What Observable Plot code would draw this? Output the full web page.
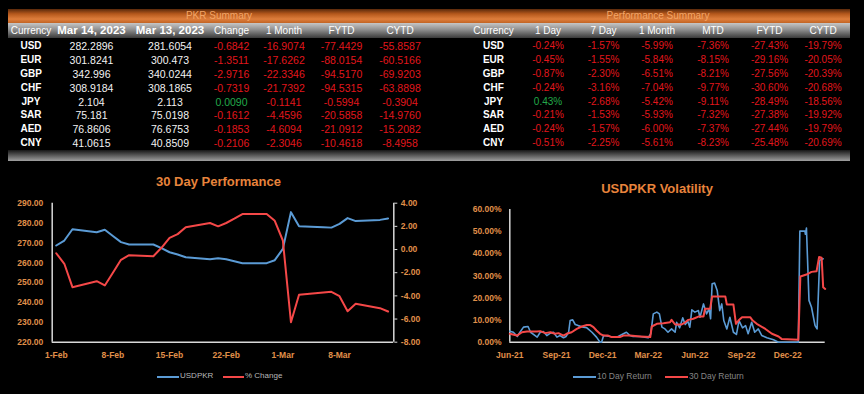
<!DOCTYPE html>
<html><head><meta charset="utf-8">
<script src="https://cdn.jsdelivr.net/npm/d3@7"></script>
<script src="https://cdn.jsdelivr.net/npm/@observablehq/plot@0.6"></script>
<style>
html,body{margin:0;padding:0;background:#000;width:864px;height:394px;overflow:hidden;font-family:"Liberation Sans",Arial,sans-serif;}
#root{position:relative;width:864px;height:394px;}
.blk{position:absolute;}
.cell{position:absolute;transform:translate(-50%,-50%);white-space:nowrap;line-height:1;}
.chart{position:absolute;}
.chart svg{overflow:visible;}
</style></head>
<body><div id="root"></div>
<script>
// ---------- table data ----------
const currencies = ["USD","EUR","GBP","CHF","JPY","SAR","AED","CNY"];
const pkrHeaders = ["Currency","Mar 14, 2023","Mar 13, 2023","Change","1 Month","FYTD","CYTD"];
const rateMar14 = [282.2896,301.8241,342.996,308.9184,2.104,75.181,76.8606,41.0615];
const rateMar13 = [281.6054,300.473,340.0244,308.1865,2.113,75.0198,76.6753,40.8509];
const pkrChange = [-0.6842,-1.3511,-2.9716,-0.7319,0.0090,-0.1612,-0.1853,-0.2106];
const pkr1Month = [-16.9074,-17.6262,-22.3346,-21.7392,-0.1141,-4.4596,-4.6094,-2.3046];
const pkrFYTD = [-77.4429,-88.0154,-94.5170,-94.5315,-0.5994,-20.5858,-21.0912,-10.4618];
const pkrCYTD = [-55.8587,-60.5166,-69.9203,-63.8898,-0.3904,-14.9760,-15.2082,-8.4958];

const perfHeaders = ["Currency","1 Day","7 Day","1 Month","MTD","FYTD","CYTD"];
const perf1Day = [-0.24,-0.45,-0.87,-0.24,0.43,-0.21,-0.24,-0.51];
const perf7Day = [-1.57,-1.55,-2.30,-3.16,-2.68,-1.53,-1.57,-2.25];
const perf1Month = [-5.99,-5.84,-6.51,-7.04,-5.42,-5.93,-6.00,-5.61];
const perfMTD = [-7.36,-8.15,-8.21,-9.77,-9.11,-7.32,-7.37,-8.23];
const perfFYTD = [-27.43,-29.16,-27.56,-30.60,-28.49,-27.38,-27.44,-25.48];
const perfCYTD = [-19.79,-20.05,-20.39,-20.68,-18.56,-19.92,-19.79,-20.69];

// ---------- 30 day performance ----------
const perfDates = ["2023-02-01","2023-02-02","2023-02-03","2023-02-06","2023-02-07","2023-02-08","2023-02-09","2023-02-10","2023-02-13","2023-02-14","2023-02-15","2023-02-16","2023-02-17","2023-02-20","2023-02-21","2023-02-22","2023-02-23","2023-02-24","2023-02-27","2023-02-28","2023-03-01","2023-03-02","2023-03-03","2023-03-06","2023-03-07","2023-03-08","2023-03-09","2023-03-10","2023-03-13","2023-03-14"];
const usdpkr = [268.7,271.2,276.9,275.4,276.6,273.5,270.4,269.2,269.2,267.4,265.3,264.2,262.8,261.8,262.3,261.8,260.8,259.8,259.8,261.3,267.0,285.5,278.4,277.9,277.7,279.6,282.5,281.0,281.6,282.3];
const pctChange = [-0.32,-1.23,-3.25,-2.73,-3.10,-2.01,-0.89,-0.49,-0.58,0.15,1.01,1.33,1.92,2.29,2.00,2.29,2.66,3.06,3.06,2.48,0.78,-6.27,-3.91,-3.71,-3.65,-4.03,-5.32,-4.69,-5.06,-5.35];
const perfTickDates = ["2023-02-01","2023-02-08","2023-02-15","2023-02-22","2023-03-01","2023-03-08"];

// ---------- volatility ----------
const vol10Dates = ["2021-06-01","2021-06-08","2021-06-16","2021-06-21","2021-06-28","2021-07-07","2021-07-12","2021-07-21","2021-07-25","2021-07-31","2021-08-06","2021-08-13","2021-08-20","2021-08-26","2021-09-02","2021-09-08","2021-09-15","2021-09-20","2021-09-25","2021-09-28","2021-10-03","2021-10-08","2021-10-14","2021-10-24","2021-10-31","2021-11-10","2021-11-19","2021-11-26","2021-11-29","2021-12-03","2021-12-16","2021-12-29","2022-01-11","2022-01-17","2022-01-24","2022-01-30","2022-02-13","2022-03-01","2022-03-06","2022-03-11","2022-03-18","2022-03-23","2022-03-28","2022-04-03","2022-04-09","2022-04-16","2022-04-23","2022-04-26","2022-05-02","2022-05-08","2022-05-13","2022-05-18","2022-05-22","2022-05-26","2022-06-01","2022-06-08","2022-06-11","2022-06-18","2022-06-24","2022-06-29","2022-07-02","2022-07-05","2022-07-10","2022-07-15","2022-07-20","2022-07-24","2022-07-28","2022-08-03","2022-08-09","2022-08-16","2022-08-22","2022-08-27","2022-09-03","2022-09-09","2022-09-14","2022-09-21","2022-09-27","2022-10-04","2022-10-11","2022-10-21","2022-11-03","2022-11-13","2022-12-22","2022-12-25","2023-01-04","2023-01-05","2023-01-07","2023-01-12","2023-01-17","2023-01-24","2023-01-28","2023-02-02","2023-02-09"];
const ret10 = [5.0,4.5,2.6,4.5,6.8,7.1,4.5,3.0,2.3,4.5,4.8,3.0,4.1,4.5,2.3,3.0,2.0,2.6,4.5,9.8,10.1,8.0,7.5,6.8,6.5,4.5,2.3,0.0,0.0,3.0,2.6,2.3,3.8,4.5,3.0,2.6,2.6,2.0,3.8,12.8,13.6,12.8,6.8,6.0,4.5,6.0,4.5,9.0,6.5,11.0,8.0,9.5,6.8,14.6,13.6,14.3,11.3,17.3,12.8,15.1,10.6,26.4,26.7,23.4,14.3,17.3,9.8,6.0,11.3,4.5,3.5,9.8,6.5,7.5,3.8,9.0,4.5,6.0,3.0,2.0,1.1,0.0,0.0,50.2,50.2,48.8,51.6,18.9,15.8,7.5,6.0,37.0,37.7];
const vol30Dates = ["2021-06-01","2021-06-15","2021-06-25","2021-07-05","2021-07-24","2021-07-31","2021-08-10","2021-08-20","2021-08-29","2021-09-05","2021-09-15","2021-09-21","2021-10-01","2021-10-11","2021-10-21","2021-10-31","2021-11-06","2021-11-13","2021-11-19","2021-11-26","2021-12-03","2021-12-12","2021-12-19","2022-01-04","2022-01-11","2022-01-24","2022-02-13","2022-03-05","2022-03-08","2022-03-18","2022-03-31","2022-04-13","2022-04-16","2022-04-23","2022-05-06","2022-05-13","2022-05-19","2022-05-29","2022-06-08","2022-06-18","2022-06-21","2022-07-01","2022-07-05","2022-07-31","2022-08-03","2022-08-16","2022-08-21","2022-08-26","2022-09-02","2022-09-18","2022-09-23","2022-10-01","2022-10-18","2022-10-31","2022-11-13","2022-11-19","2022-12-22","2022-12-26","2023-01-07","2023-01-17","2023-01-27","2023-02-01","2023-02-06","2023-02-09","2023-02-13"];
const ret30 = [3.8,3.0,4.5,4.8,4.8,5.0,4.1,4.5,3.8,4.1,3.0,3.8,4.5,6.0,7.1,7.8,7.8,6.8,5.3,3.8,3.0,3.0,2.3,2.3,3.0,3.0,2.6,2.3,7.1,8.3,8.6,9.0,10.1,8.0,8.0,9.0,10.1,10.6,11.6,11.6,15.1,15.1,20.7,20.7,17.0,17.0,8.3,9.8,11.3,11.3,9.8,8.3,6.0,3.8,2.6,1.5,1.1,29.7,30.6,31.8,32.1,38.5,38.2,24.9,24.1];
const volTickDates = ["2021-06-01","2021-09-01","2021-12-01","2022-03-01","2022-06-01","2022-09-01","2022-12-01"];

// ---------- styles ----------
const ORANGE = "#e0904a", TITLE = "#e8843c", AXIS = "#d9d9d9";
const BLUE = "#5b9bd5", RED = "#f54848";
const TXT_RED = "#e2161c", TXT_GREEN = "#22a84a", TXT = "#f2f2f2";

const root = document.getElementById("root");
function blk(css){const d=document.createElement("div");d.className="blk";Object.assign(d.style,css);root.appendChild(d);return d;}
function place(text,x,y,css){const d=document.createElement("div");d.className="cell";d.textContent=text;d.style.left=x+"px";d.style.top=y+"px";Object.assign(d.style,css||{});root.appendChild(d);return d;}

// bars
blk({left:"8px",top:"9px",width:"842px",height:"14px",background:"linear-gradient(#5a290b,#b5581c 35%,#de7e3c 72%,#c26424)"});
blk({left:"8px",top:"23px",width:"842px",height:"15px",background:"linear-gradient(#c6c6c6,#8e8e8e 45%,#3a3a3a)"});
blk({left:"8px",top:"150px",width:"842px",height:"11px",background:"linear-gradient(#161616,#a0a0a0)"});
place("PKR Summary",219,16,{fontSize:"10px",color:"#f4a565"});
place("Performance Summary",658,16,{fontSize:"10px",color:"#f4a565"});

const leftCols=[31,91.5,170,231.5,284,341.5,400];
const rightCols=[493.5,548,603.5,657,713,769.5,823];
const headY=30.5, rowY0=45.7, rowStep=13.95;
pkrHeaders.forEach((h,j)=>place(h,leftCols[j],headY,(j===1||j===2)?{fontSize:"11.5px",fontWeight:"bold",color:"#fff"}:{fontSize:"10px",color:"#fff"}));
perfHeaders.forEach((h,j)=>place(h,rightCols[j],headY,{fontSize:"10px",color:"#fff"}));
const colr=v=>v>0?TXT_GREEN:TXT_RED;
currencies.forEach((c,i)=>{
  const y=rowY0+i*rowStep;
  place(c,leftCols[0],y,{fontSize:"10px",fontWeight:"bold",color:"#fff"});
  place(String(rateMar14[i]),leftCols[1],y,{fontSize:"10.5px",color:TXT});
  place(String(rateMar13[i]),leftCols[2],y,{fontSize:"10.5px",color:TXT});
  [pkrChange,pkr1Month,pkrFYTD,pkrCYTD].forEach((arr,k)=>place(arr[i].toFixed(4),leftCols[3+k],y,{fontSize:"10.5px",color:colr(arr[i])}));
  place(c,rightCols[0],y,{fontSize:"10px",fontWeight:"bold",color:"#fff"});
  [perf1Day,perf7Day,perf1Month,perfMTD,perfFYTD,perfCYTD].forEach((arr,k)=>place(arr[i].toFixed(2)+"%",rightCols[1+k],y,{fontSize:"10px",color:colr(arr[i])}));
});

// titles & legends
place("30 Day Performance",218.5,181,{fontSize:"13px",fontWeight:"bold",color:TITLE});
place("USDPKR Volatility",657,187.5,{fontSize:"13px",fontWeight:"bold",color:TITLE});
function legendItem(x1,x2,color,label,y,textColor,fs){
  blk({left:x1+"px",top:(y-1)+"px",width:(x2-x1)+"px",height:"2px",background:color});
  const d=document.createElement("div");d.className="blk";d.textContent=label;
  Object.assign(d.style,{left:(x2+1)+"px",top:(y-fs/2-0.5)+"px",fontSize:fs+"px",lineHeight:"1",color:textColor,whiteSpace:"nowrap"});
  root.appendChild(d);
}
legendItem(157,179,BLUE,"USDPKR",376.5,"#b8b8b8",8);
legendItem(223,244,RED,"% Change",376.5,"#b8b8b8",8);
legendItem(573,596,BLUE,"10 Day Return",377,"#858585",8.5);
legendItem(665,688,RED,"30 Day Return",377,"#858585",8.5);

// ---------- charts ----------
const P=d3.utcParse("%Y-%m-%d");
function holder(left,top){const d=document.createElement("div");d.className="chart";d.style.left=left+"px";d.style.top=top+"px";root.appendChild(d);return d;}
const axisFont={fontSize:8.5,fontWeight:"bold",fill:ORANGE};
const baseStyle={background:"transparent",color:ORANGE,fontFamily:"Liberation Sans, Arial, sans-serif",overflow:"visible"};

const perfData=perfDates.map((d,i)=>({date:P(d),usd:usdpkr[i],pct:pctChange[i]}));
const pDomain=[new Date(Date.UTC(2023,0,31,12)),new Date(Date.UTC(2023,2,14,17))];
const pDims={width:432,height:200,marginLeft:51.7,marginRight:38.7,marginTop:32.7,marginBottom:28.3,style:baseStyle};

const chartA=Plot.plot({...pDims,
  x:{type:"utc",domain:pDomain},
  y:{domain:[220,290]},
  marks:[
    Plot.axisX({ticks:perfTickDates.map(P),tickFormat:d3.utcFormat("%-d-%b"),tickSize:0,tickPadding:10,label:null,...axisFont}),
    Plot.axisY({ticks:d3.range(220,291,10),tickFormat:d=>d.toFixed(2),tickSize:0,tickPadding:9,label:null,...axisFont}),
    Plot.ruleX([pDomain[0]],{stroke:AXIS,strokeWidth:1.5}),
    Plot.ruleY([220],{stroke:AXIS,strokeWidth:1.5}),
    Plot.line(perfData,{x:"date",y:"usd",stroke:BLUE,strokeWidth:2})
  ]});
holder(0,170).appendChild(chartA);

const chartB=Plot.plot({...pDims,
  x:{type:"utc",domain:pDomain,axis:null},
  y:{domain:[-8,4]},
  marks:[
    Plot.axisY({anchor:"right",ticks:d3.range(-8,4.01,2),tickFormat:d=>d.toFixed(2),tickSize:3,tickPadding:4,label:null,stroke:AXIS,...axisFont}),
    Plot.ruleX([pDomain[1]],{stroke:AXIS,strokeWidth:1.5}),
    Plot.line(perfData,{x:"date",y:"pct",stroke:RED,strokeWidth:2})
  ]});
holder(0,170).appendChild(chartB);

const v10=vol10Dates.map((d,i)=>({date:P(d),v:ret10[i]}));
const v30=vol30Dates.map((d,i)=>({date:P(d),v:ret30[i]}));
const vDomain=[P("2021-06-01"),P("2023-02-13")];
const chartC=Plot.plot({width:432,height:200,marginLeft:77.3,marginRight:39.3,marginTop:39,marginBottom:28.3,style:baseStyle,
  x:{type:"utc",domain:vDomain},
  y:{domain:[0,60]},
  marks:[
    Plot.axisX({ticks:volTickDates.map(P),tickFormat:d3.utcFormat("%b-%y"),tickSize:0,tickPadding:10,label:null,...axisFont}),
    Plot.axisY({ticks:d3.range(0,61,10),tickFormat:d=>d.toFixed(2)+"%",tickSize:0,tickPadding:8.3,label:null,...axisFont}),
    Plot.ruleX([vDomain[0]],{stroke:AXIS,strokeWidth:1.5}),
    Plot.ruleY([0],{stroke:AXIS,strokeWidth:1.5}),
    Plot.line(v10,{x:"date",y:"v",stroke:BLUE,strokeWidth:1.6}),
    Plot.line(v30,{x:"date",y:"v",stroke:RED,strokeWidth:2})
  ]});
holder(432,170).appendChild(chartC);
</script></body></html>
